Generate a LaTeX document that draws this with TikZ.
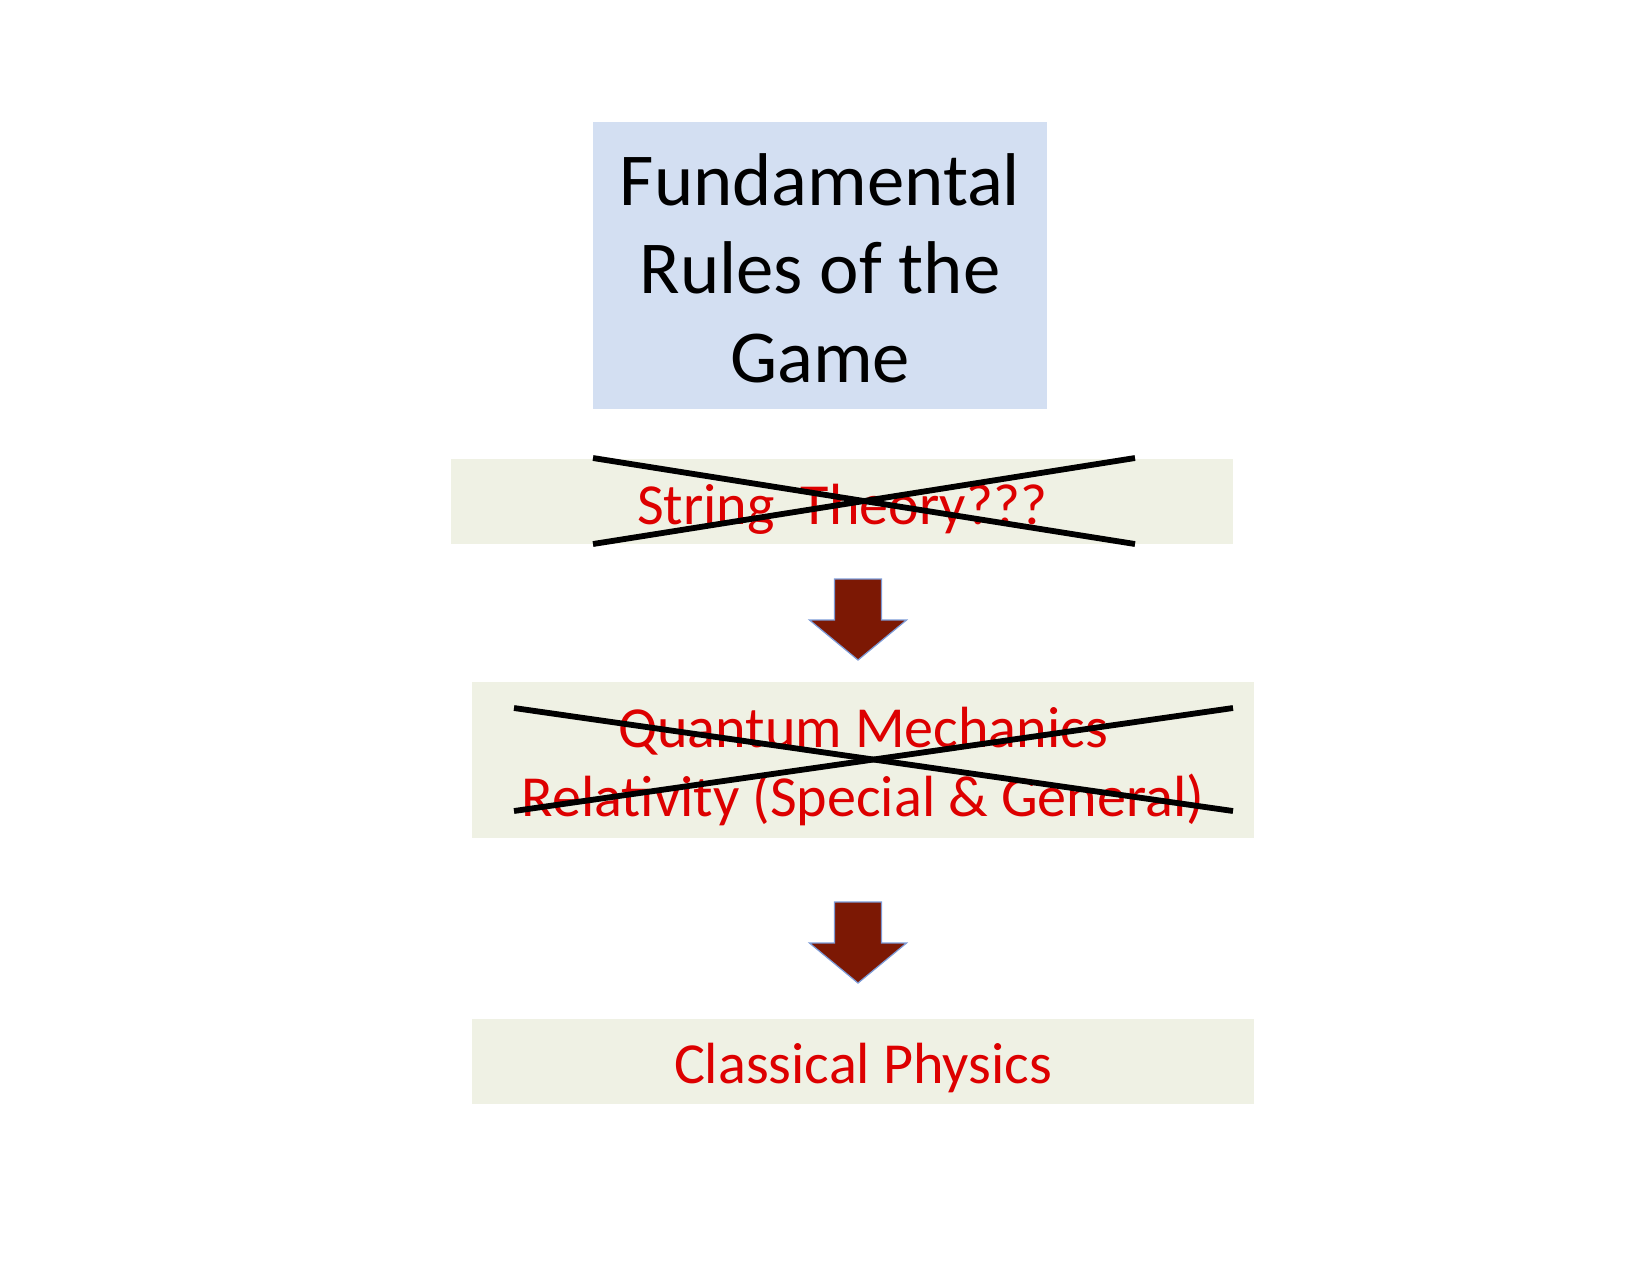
\documentclass[tikz,border=0pt]{standalone}
\usepackage{fontspec}
\setmainfont{Carlito}
\usetikzlibrary{positioning}

\definecolor{rulesblue}{RGB}{211,223,242}
\definecolor{levelbg}{RGB}{239,241,228}
\definecolor{levelred}{RGB}{221,0,0}
\definecolor{arrowred}{RGB}{124,24,4}
\definecolor{arrowedge}{RGB}{125,155,215}

\begin{document}
\begin{tikzpicture}[
    x=0.4818pt, y=-0.4818pt,
    every node/.style={inner sep=0pt, align=center},
    rulesbox/.style={fill=rulesblue, text=black,
      font=\fontsize{36}{42.6}\selectfont,
      minimum width=218.7pt, text height=125.3pt, text depth=13pt},
    levelbox/.style={fill=levelbg, text=levelred,
      font=\fontsize{28}{33.6}\selectfont, minimum width=376.8pt},
    strike/.style={draw=black, line width=2.8pt},
    downarr/.pic={
      \filldraw[fill=arrowred, draw=arrowedge, line width=0.6pt]
        (-23.5,0) -- (23.5,0) -- (23.5,41) -- (48.5,41) -- (0,81)
        -- (-48.5,41) -- (-23.5,41) -- cycle;
    }
  ]
  \useasboundingbox (0,0) rectangle (1650,1275);

  %--------------------------------------
  % 1) top box: the rules
  %--------------------------------------
  \node[rulesbox] (rules) at (820,265.5) {Fundamental\\Rules of the\\Game};

  %--------------------------------------
  % 2) string theory level (crossed out)
  %--------------------------------------
  \node[levelbox, text height=31.8pt, text depth=9.2pt] (strings) at (842,501.5)
    {String~ Theory???};
  \coordinate (S1) at (593,458);  % top left
  \coordinate (S2) at (1135,544); % bottom right
  \coordinate (S3) at (593,544);  % bottom left
  \coordinate (S4) at (1135,458); % top right
  \draw[strike] (S1) -- (S2);
  \draw[strike] (S3) -- (S4);

  % arrow down
  \pic at (858,579) {downarr};

  %--------------------------------------
  % 3) quantum mechanics / relativity (crossed out)
  %--------------------------------------
  \node[levelbox, text height=65pt, text depth=10.1pt] (quantum) at (863,760)
    {Quantum Mechanics\\Relativity (Special \& General)};
  \coordinate (Q1) at (514,708);  % top left
  \coordinate (Q2) at (1233,811); % bottom right
  \coordinate (Q3) at (514,811);  % bottom left
  \coordinate (Q4) at (1233,708); % top right
  \draw[strike] (Q1) -- (Q2);
  \draw[strike] (Q3) -- (Q4);

  % arrow down
  \pic at (858,902) {downarr};

  %--------------------------------------
  % 4) classical physics
  %--------------------------------------
  \node[levelbox, text height=30.8pt, text depth=10.1pt] (classical) at (863,1061.5)
    {Classical Physics};

\end{tikzpicture}
\end{document}
